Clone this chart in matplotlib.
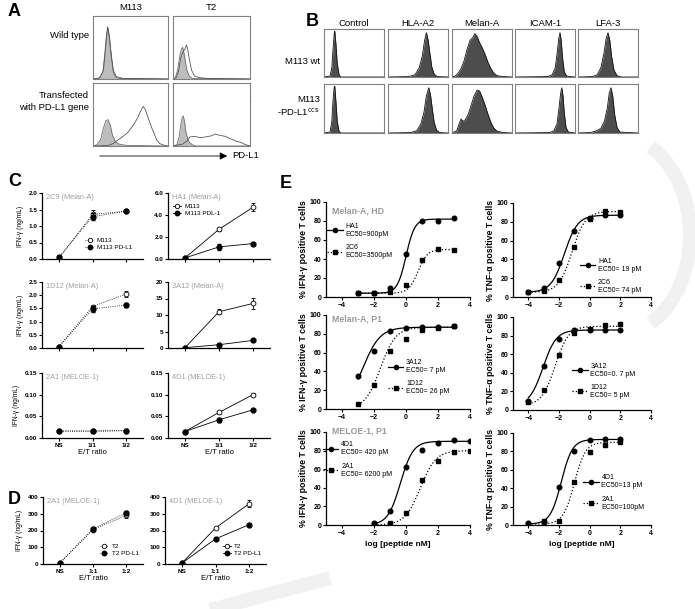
import numpy as np
import matplotlib
matplotlib.use("Agg")
import matplotlib.pyplot as plt
from matplotlib.lines import Line2D
from matplotlib.patches import Arc

plt.rcParams['font.family'] = ['Liberation Sans', 'DejaVu Sans']

W, H = 695, 609
fig = plt.figure(figsize=(W / 100, H / 100), dpi=100)

# ---------------- data ----------------
# panel A histograms (x, y as fraction of the box)
a_m113_wt_iso = [(0, 0), (0.08, 0.01), (0.13, 0.1), (0.16, 0.45), (0.18, 0.75), (0.2, 0.85), (0.22, 0.7),
                 (0.24, 0.4), (0.27, 0.12), (0.3, 0.03), (0.35, 0.01), (1, 0)]
a_m113_wt_pdl1 = [(0, 0), (0.09, 0.02), (0.14, 0.15), (0.17, 0.55), (0.195, 0.87), (0.215, 0.72), (0.24, 0.45),
                  (0.27, 0.15), (0.31, 0.04), (0.4, 0.01), (1, 0)]
a_t2_wt_iso = [(0, 0), (0.03, 0.02), (0.06, 0.15), (0.09, 0.4), (0.11, 0.5), (0.125, 0.53), (0.14, 0.45),
               (0.16, 0.3), (0.18, 0.15), (0.21, 0.05), (0.25, 0.01), (1, 0)]
a_t2_wt_pdl1 = [(0, 0), (0.04, 0.02), (0.07, 0.12), (0.1, 0.35), (0.13, 0.45), (0.155, 0.5), (0.175, 0.57),
                (0.19, 0.5), (0.21, 0.35), (0.24, 0.15), (0.28, 0.05), (0.35, 0.02), (0.45, 0.01), (1, 0)]
a_m113_tf_iso = [(0, 0), (0.05, 0.02), (0.1, 0.1), (0.14, 0.3), (0.17, 0.42), (0.2, 0.44), (0.23, 0.35),
                 (0.26, 0.18), (0.3, 0.07), (0.35, 0.03), (0.45, 0.01), (1, 0)]
a_m113_tf_pdl1 = [(0, 0), (0.2, 0.01), (0.27, 0.04), (0.32, 0.09), (0.38, 0.14), (0.46, 0.22), (0.54, 0.35),
                  (0.6, 0.48), (0.63, 0.57), (0.67, 0.66), (0.7, 0.6), (0.74, 0.45), (0.8, 0.25), (0.85, 0.1),
                  (0.89, 0.04), (0.95, 0.01), (1, 0)]
a_t2_tf_iso = [(0, 0), (0.05, 0.02), (0.08, 0.15), (0.1, 0.35), (0.12, 0.48), (0.135, 0.5), (0.15, 0.4),
               (0.17, 0.22), (0.2, 0.08), (0.25, 0.02), (0.3, 0), (1, 0)]
a_t2_tf_pdl1 = [(0, 0), (0.12, 0.03), (0.18, 0.08), (0.22, 0.15), (0.28, 0.16), (0.35, 0.14), (0.42, 0.15),
                (0.5, 0.17), (0.55, 0.2), (0.6, 0.18), (0.68, 0.16), (0.75, 0.12), (0.82, 0.08), (0.88, 0.06),
                (0.93, 0.03), (0.97, 0.01), (1, 0)]

# panel B histograms
b_markers = ['Control', 'HLA-A2', 'Melan-A', 'ICAM-1', 'LFA-3']
b_wt = [
    [(0, 0), (0.1, 0.02), (0.13, 0.2), (0.15, 0.6), (0.17, 0.95), (0.18, 1.0), (0.2, 0.7), (0.22, 0.3),
     (0.25, 0.05), (0.28, 0), (1, 0)],
    [(0, 0), (0.35, 0.01), (0.45, 0.05), (0.52, 0.2), (0.57, 0.45), (0.61, 0.8), (0.64, 0.97), (0.67, 0.8),
     (0.7, 0.5), (0.73, 0.22), (0.77, 0.06), (0.82, 0.01), (1, 0)],
    [(0, 0), (0.05, 0.02), (0.1, 0.08), (0.15, 0.18), (0.2, 0.35), (0.25, 0.6), (0.3, 0.8), (0.35, 0.87),
     (0.38, 0.95), (0.42, 0.88), (0.46, 0.75), (0.5, 0.65), (0.55, 0.5), (0.6, 0.32), (0.65, 0.18),
     (0.7, 0.08), (0.75, 0.03), (0.85, 0.01), (1, 0)],
    [(0, 0), (0.55, 0.01), (0.62, 0.05), (0.67, 0.2), (0.7, 0.5), (0.73, 0.85), (0.75, 0.97), (0.77, 0.8),
     (0.79, 0.45), (0.82, 0.12), (0.86, 0.02), (1, 0)],
    [(0, 0), (0.25, 0.01), (0.32, 0.05), (0.38, 0.2), (0.43, 0.5), (0.47, 0.85), (0.5, 0.97), (0.53, 0.8),
     (0.56, 0.45), (0.6, 0.15), (0.65, 0.03), (0.72, 0), (1, 0)],
]
b_pdl1 = [
    [(0, 0), (0.1, 0.02), (0.13, 0.25), (0.15, 0.7), (0.17, 0.98), (0.18, 1.0), (0.2, 0.65), (0.22, 0.25),
     (0.25, 0.04), (0.28, 0), (1, 0)],
    [(0, 0), (0.38, 0.01), (0.48, 0.05), (0.55, 0.2), (0.6, 0.45), (0.64, 0.8), (0.68, 0.97), (0.71, 0.8),
     (0.74, 0.5), (0.77, 0.22), (0.81, 0.06), (0.86, 0.01), (1, 0)],
    [(0, 0), (0.08, 0.05), (0.12, 0.2), (0.15, 0.3), (0.18, 0.25), (0.22, 0.28), (0.27, 0.4), (0.32, 0.6),
     (0.37, 0.8), (0.42, 0.92), (0.46, 0.9), (0.5, 0.78), (0.55, 0.6), (0.6, 0.4), (0.65, 0.22), (0.7, 0.1),
     (0.75, 0.04), (0.85, 0.01), (1, 0)],
    [(0, 0), (0.58, 0.01), (0.65, 0.05), (0.7, 0.2), (0.73, 0.5), (0.76, 0.85), (0.78, 0.97), (0.8, 0.8),
     (0.82, 0.45), (0.85, 0.12), (0.89, 0.02), (1, 0)],
    [(0, 0), (0.2, 0.01), (0.3, 0.04), (0.38, 0.1), (0.44, 0.25), (0.49, 0.55), (0.52, 0.85), (0.55, 0.97),
     (0.58, 0.78), (0.61, 0.4), (0.65, 0.12), (0.7, 0.02), (1, 0)],
]

# panels C and D (E/T ratio)
et_pos = [0, 1, 2]
c_ticklabels = ['NS', '1/1', '1/2']
d_ticklabels = ['NS', '1:1', '1:2']

c_2c9_m113 = [0.02, 1.35, 1.45]
c_2c9_m113_err = [0.02, 0.12, 0.04]
c_2c9_pdl1 = [0.05, 1.28, 1.45]
c_2c9_pdl1_err = [0.02, 0.1, 0.04]
c_ha1_m113 = [0.1, 2.7, 4.7]
c_ha1_m113_err = [0.05, 0.15, 0.35]
c_ha1_pdl1 = [0.1, 1.1, 1.4]
c_ha1_pdl1_err = [0.05, 0.3, 0.05]
c_1d12_m113 = [0.05, 1.57, 2.05]
c_1d12_m113_err = [0.02, 0.05, 0.12]
c_1d12_pdl1 = [0.05, 1.48, 1.63]
c_1d12_pdl1_err = [0.02, 0.1, 0.08]
c_3a12_m113 = [0.1, 11.0, 13.5]
c_3a12_m113_err = [0.1, 0.8, 1.8]
c_3a12_pdl1 = [0.1, 1.0, 2.3]
c_3a12_pdl1_err = [0.1, 0.2, 0.2]
c_2a1_m113 = [0.016, 0.016, 0.017]
c_2a1_pdl1 = [0.016, 0.016, 0.017]
c_2a1_err = [0.001, 0.001, 0.003]
c_4d1_m113 = [0.015, 0.059, 0.1]
c_4d1_m113_err = [0.001, 0.003, 0.004]
c_4d1_pdl1 = [0.015, 0.042, 0.065]
c_4d1_pdl1_err = [0.001, 0.005, 0.003]

d_2a1_t2 = [5, 205, 290]
d_2a1_t2_err = [2, 8, 15]
d_2a1_pdl1 = [5, 210, 305]
d_2a1_pdl1_err = [2, 10, 10]
d_4d1_t2 = [5, 215, 360]
d_4d1_t2_err = [2, 8, 20]
d_4d1_pdl1 = [5, 150, 235]
d_4d1_pdl1_err = [2, 5, 5]

# panel E (log peptide nM vs % positive), points and fit parameters (bottom, top, logEC50, hill)
e_x7a = [-3, -2, -1, 0, 1, 2, 3]
e_x7b = [-4, -3, -2, -1, 0, 1, 2]
e_x7c = [-2, -1, 0, 1, 2, 3, 4]
e_ifn_ha1 = [4, 4, 10, 45, 80, 80, 83]
e_ifn_2c6 = [4, 4, 5, 13, 39, 51, 49]
e_tnf_ha1 = [5, 10, 36, 70, 84, 87, 87]
e_tnf_2c6 = [5, 6, 18, 53, 83, 91, 90]
e_ifn_3a12 = [35, 62, 83, 86, 87, 87, 88]
e_ifn_1d12 = [5, 26, 62, 75, 84, 86, 88]
e_tnf_3a12 = [10, 47, 76, 86, 86, 86, 86]
e_tnf_1d12 = [9, 22, 59, 83, 87, 91, 92]
e_ifn_4d1 = [2, 15, 62, 81, 88, 91, 90]
e_ifn_2a1 = [1, 2, 13, 48, 69, 78, 80]
e_tnf_4d1 = [2, 3, 41, 80, 92, 94, 94]
e_tnf_2a1 = [1, 4, 4, 47, 79, 87, 90]

fit_ifn_ha1 = (4, 82, 0.0, 1.6)
fit_ifn_2c6 = (4, 50, 0.75, 1.5)
fit_tnf_ha1 = (5, 87, -1.65, 1.0)
fit_tnf_2c6 = (5, 91, -1.15, 1.0)
fit_ifn_3a12 = (0, 87, -2.7, 0.8)
fit_ifn_1d12 = (0, 87, -1.6, 0.9)
fit_tnf_3a12 = (5, 86, -3.05, 1.0)
fit_tnf_1d12 = (5, 90, -2.25, 1.0)
fit_ifn_4d1 = (0, 90, -0.35, 1.1)
fit_ifn_2a1 = (0, 80, 0.9, 0.9)
fit_tnf_4d1 = (1, 93, -1.85, 1.2)
fit_tnf_2a1 = (1, 90, -1.0, 1.2)


# ---------------- helpers ----------------
def px_axes(x0, y0, x1, y1):
    return fig.add_axes([x0 / W, 1 - y1 / H, (x1 - x0) / W, (y1 - y0) / H])


overlay = fig.add_axes([0, 0, 1, 1])
overlay.set_xlim(0, W)
overlay.set_ylim(H, 0)
overlay.axis('off')
overlay.patch.set_alpha(0)

# faint watermark shapes of the manuscript page
overlay.add_patch(Arc((615, 235), 150, 200, theta1=-68, theta2=68, lw=10, color='#f1f1f1', zorder=0))
overlay.plot([195, 330], [614, 578], color='#f1f1f1', lw=10, solid_capstyle='butt', zorder=0)


def hist_box(box, curves, frame='#808080'):
    ax = px_axes(*box)
    ax.set_xlim(0, 1)
    ax.set_ylim(0, 1.05)
    ax.set_xticks([])
    ax.set_yticks([])
    for s in ax.spines.values():
        s.set_color(frame)
        s.set_linewidth(0.8)
    for pts, face, edge, lw in curves:
        xs = [p[0] for p in pts]
        ys = [p[1] for p in pts]
        if face is not None:
            ax.fill_between(xs, ys, color=face, lw=0)
        ax.plot(xs, ys, color=edge, lw=lw)
    return ax


def style_axes(ax, size=4.6):
    ax.patch.set_alpha(0)
    for s in ['top', 'right']:
        ax.spines[s].set_visible(False)
    for s in ['left', 'bottom']:
        ax.spines[s].set_linewidth(0.9)
    ax.tick_params(length=2, width=0.8, pad=1.5, labelsize=size)
    for lab in ax.get_xticklabels() + ax.get_yticklabels():
        lab.set_fontweight('bold')


def et_panel(box, title, ylim, yticks, yfmt, open_v, open_e, fill_v, fill_e, ls,
             xlabels=None, ylabel=None, leg_labels=None, leg_anchor=None):
    ax = px_axes(*box)
    ax.errorbar(et_pos, open_v, yerr=open_e, color='black', ls=ls, lw=0.6, marker='o', ms=3.5,
                mfc='white', mec='black', mew=0.6, capsize=1.5, elinewidth=0.6, zorder=3)
    ax.errorbar(et_pos, fill_v, yerr=fill_e, color='black', ls=ls, lw=0.6, marker='o', ms=3.5,
                mfc='black', mec='black', capsize=1.5, elinewidth=0.6, zorder=4)
    ax.set_xlim(-0.5, 2.5)
    ax.set_ylim(*ylim)
    ax.set_yticks(yticks)
    ax.set_yticklabels([yfmt.format(v) for v in yticks])
    ax.set_xticks(et_pos)
    if xlabels:
        ax.set_xticklabels(xlabels)
        ax.set_xlabel('E/T ratio', fontsize=5.5, labelpad=0.5)
    else:
        ax.set_xticklabels([])
    if ylabel:
        ax.set_ylabel(ylabel, fontsize=4.8, labelpad=3)
    ax.text(0.04, 0.98, title, transform=ax.transAxes, color='#a0a0a0', fontsize=5.3, va='top')
    if leg_labels:
        hs = [Line2D([], [], color='black', ls=ls, lw=0.6, marker='o', ms=3.2, mfc='white', mec='black', mew=0.6),
              Line2D([], [], color='black', ls=ls, lw=0.6, marker='o', ms=3.2, mfc='black', mec='black')]
        ax.legend(hs, leg_labels, loc='upper left', bbox_to_anchor=leg_anchor, frameon=False, fontsize=4.6,
                  handlelength=1.3, handletextpad=0.5, labelspacing=0.25, borderpad=0, borderaxespad=0)
    style_axes(ax)
    return ax


def hill(xx, p):
    b, t, m, h = p
    return b + (t - b) / (1 + 10 ** ((m - xx) * h))


def dose_panel(box, title, xs, y1, p1, lab1, y2, p2, lab2, ylabel, leg_anchor, xlabel=False):
    ax = px_axes(*box)
    xx = np.linspace(min(xs), max(xs), 200)
    ax.plot(xx, hill(xx, p1), color='black', lw=0.9, ls='-')
    ax.plot(xx, hill(xx, p2), color='black', lw=0.9, ls=':')
    ax.plot(xs, y1, 'o', color='black', ms=3.3, zorder=4)
    ax.plot(xs, y2, 's', color='black', ms=3.3, zorder=4)
    ax.set_xlim(-5, 4)
    ax.set_ylim(0, 100)
    ax.set_xticks([-4, -2, 0, 2, 4])
    ax.set_yticks([0, 20, 40, 60, 80, 100])
    ax.set_ylabel(ylabel, fontsize=6.3, fontweight='bold', labelpad=1)
    if xlabel:
        ax.set_xlabel('log [peptide nM]', fontsize=6, fontweight='bold', labelpad=3)
    if title:
        ax.text(0.04, title[1], title[0], transform=ax.transAxes, color='#9a9a9a', fontsize=6.3,
                fontweight='bold', va='top')
    hs = [Line2D([], [], color='black', ls='-', lw=0.9, marker='o', ms=3),
          Line2D([], [], color='black', ls=':', lw=0.9, marker='s', ms=3)]
    ax.legend(hs, [lab1, lab2], loc='upper left', bbox_to_anchor=leg_anchor, frameon=False,
              fontsize=5, handlelength=2.2, handletextpad=0.4, labelspacing=0.9, borderpad=0,
              borderaxespad=0)
    style_axes(ax, 5)
    return ax


# ---------------- panel A ----------------
overlay.text(8, 12, 'A', fontsize=13, fontweight='bold', va='center')
overlay.text(131, 8, 'M113', fontsize=6.8, ha='center', va='center')
overlay.text(211, 8, 'T2', fontsize=6.8, ha='center', va='center')
overlay.text(89, 36, 'Wild type', fontsize=6.8, ha='right', va='center')
overlay.text(89, 96, 'Transfected', fontsize=6.8, ha='right', va='center')
overlay.text(89, 107, 'with PD-L1 gene', fontsize=6.8, ha='right', va='center')

iso_style = ('#bdbdbd', '#6e6e6e', 0.6)
hist_box((93, 16, 168, 79), [(a_m113_wt_iso, *iso_style), (a_m113_wt_pdl1, None, '#555555', 0.6)])
hist_box((173, 16, 250, 79), [(a_t2_wt_iso, *iso_style), (a_t2_wt_pdl1, None, '#555555', 0.6)])
hist_box((93, 83, 168, 146), [(a_m113_tf_iso, *iso_style), (a_m113_tf_pdl1, None, '#555555', 0.6)])
hist_box((173, 83, 250, 146), [(a_t2_tf_iso, *iso_style), (a_t2_tf_pdl1, None, '#555555', 0.6)])

overlay.text(137, 34, '0.1%', fontsize=6.8, ha='center', va='center')
overlay.plot([118, 158], [44, 44], color='black', lw=0.9)
overlay.text(136, 94, '96%', fontsize=6.8, ha='center', va='center')
overlay.plot([118, 163], [101, 101], color='black', lw=0.9)
overlay.text(222, 94, '96%', fontsize=6.8, ha='center', va='center')
overlay.plot([200, 250], [101, 101], color='black', lw=0.9)
overlay.annotate('', xy=(230, 156), xytext=(97, 156),
                 arrowprops=dict(arrowstyle='-|>', lw=0.6, color='black', mutation_scale=11))
overlay.text(232, 156, 'PD-L1', fontsize=6.8, va='center')

# ---------------- panel B ----------------
overlay.text(306, 22, 'B', fontsize=13, fontweight='bold', va='center')
b_left = [324, 388, 452, 515, 578]
for i, name in enumerate(b_markers):
    x0 = b_left[i]
    overlay.text(x0 + 30, 23, name, fontsize=6.8, ha='center', va='center')
    hist_box((x0, 29, x0 + 60, 77), [(b_wt[i], '#4d4d4d', '#111111', 0.6)])
    hist_box((x0, 84, x0 + 60, 133), [(b_pdl1[i], '#4d4d4d', '#111111', 0.6)])
overlay.text(320, 62, 'M113 wt', fontsize=6.8, ha='right', va='center')
overlay.text(320, 100, 'M113', fontsize=6.8, ha='right', va='center')
overlay.text(320, 112, '-PD-L1$^{\\rm ccs}$', fontsize=6.8, ha='right', va='center')

# ---------------- panel C ----------------
overlay.text(8, 181, 'C', fontsize=13, fontweight='bold', va='center')
yl = 'IFN-\u03b3 (ng/mL)'
et_panel((42, 193, 143, 259), '2C9 (Melan-A)', (0, 2.0), [0, 0.5, 1.0, 1.5, 2.0], '{:.1f}',
         c_2c9_m113, c_2c9_m113_err, c_2c9_pdl1, c_2c9_pdl1_err, ':', ylabel=yl,
         leg_labels=['M113', 'M113 PD-L1'], leg_anchor=(0.43, 0.32))
et_panel((168, 193, 270, 259), 'HA1 (Melan-A)', (0, 6.0), [0, 2.0, 4.0, 6.0], '{:.1f}',
         c_ha1_m113, c_ha1_m113_err, c_ha1_pdl1, c_ha1_pdl1_err, '-',
         leg_labels=['M113', 'M113 PDL-1'], leg_anchor=(0.05, 0.84))
et_panel((42, 282, 143, 348), '1D12 (Melan-A)', (0, 2.5), [0, 0.5, 1.0, 1.5, 2.0, 2.5], '{:.1f}',
         c_1d12_m113, c_1d12_m113_err, c_1d12_pdl1, c_1d12_pdl1_err, ':', ylabel=yl)
et_panel((168, 282, 270, 348), '3A12 (Melan-A)', (0, 20), [0, 5, 10, 15, 20], '{:.0f}',
         c_3a12_m113, c_3a12_m113_err, c_3a12_pdl1, c_3a12_pdl1_err, '-')
et_panel((42, 373, 143, 438), '2A1 (MELOE-1)', (0, 0.15), [0, 0.05, 0.10, 0.15], '{:.2f}',
         c_2a1_m113, c_2a1_err, c_2a1_pdl1, c_2a1_err, ':', xlabels=c_ticklabels, ylabel=yl)
et_panel((168, 373, 270, 438), '4D1 (MELOE-1)', (0, 0.15), [0, 0.05, 0.10, 0.15], '{:.2f}',
         c_4d1_m113, c_4d1_m113_err, c_4d1_pdl1, c_4d1_pdl1_err, '-', xlabels=c_ticklabels)

# ---------------- panel D ----------------
overlay.text(8, 499, 'D', fontsize=13, fontweight='bold', va='center')
et_panel((43, 497, 143, 564), '2A1 (MELOE-1)', (0, 400), [0, 100, 200, 300, 400], '{:.0f}',
         d_2a1_t2, d_2a1_t2_err, d_2a1_pdl1, d_2a1_pdl1_err, ':', xlabels=d_ticklabels, ylabel=yl,
         leg_labels=['T2', 'T2 PD-L1'], leg_anchor=(0.57, 0.3))
et_panel((165, 497, 266, 564), '4D1 (MELOE-1)', (0, 400), [0, 100, 200, 300, 400], '{:.0f}',
         d_4d1_t2, d_4d1_t2_err, d_4d1_pdl1, d_4d1_pdl1_err, '-', xlabels=d_ticklabels,
         leg_labels=['T2', 'T2 PD-L1'], leg_anchor=(0.57, 0.3))

# ---------------- panel E ----------------
overlay.text(280, 183, 'E', fontsize=13, fontweight='bold', va='center')
ifn = '% IFN-\u03b3 positive T cells'
tnf = '% TNF-\u03b1 positive T cells'
dose_panel((326, 202, 470, 297), ('Melan-A, HD', 0.95), e_x7a, e_ifn_ha1, fit_ifn_ha1, 'HA1\nEC50=900pM',
           e_ifn_2c6, fit_ifn_2c6, '2C6\nEC50=3500pM', ifn, (0.01, 0.78))
dose_panel((513, 203, 651, 297), None, e_x7b, e_tnf_ha1, fit_tnf_ha1, 'HA1\nEC50= 19 pM',
           e_tnf_2c6, fit_tnf_2c6, '2C6\nEC50= 74 pM', tnf, (0.485, 0.42))
dose_panel((326, 315, 470, 409), ('Melan-A, P1', 1.0), e_x7a, e_ifn_3a12, fit_ifn_3a12, '3A12\nEC50= 7 pM',
           e_ifn_1d12, fit_ifn_1d12, '1D12\nEC50= 26 pM', ifn, (0.43, 0.53))
dose_panel((513, 317, 651, 410), None, e_x7b, e_tnf_3a12, fit_tnf_3a12, '3A12\nEC50=0. 7 pM',
           e_tnf_1d12, fit_tnf_1d12, '1D12\nEC50= 5 pM', tnf, (0.43, 0.51))
dose_panel((326, 432, 470, 525), ('MELOE-1, P1', 1.06), e_x7c, e_ifn_4d1, fit_ifn_4d1, '4D1\nEC50= 420 pM',
           e_ifn_2a1, fit_ifn_2a1, '2A1\nEC50= 6200 pM', ifn, (-0.02, 0.9), xlabel=True)
dose_panel((513, 433, 651, 525), None, e_x7b, e_tnf_4d1, fit_tnf_4d1, '4D1\nEC50=13 pM',
           e_tnf_2a1, fit_tnf_2a1, '2A1\nEC50=100pM', tnf, (0.51, 0.55), xlabel=True)

fig.savefig('out.png', dpi=100)
